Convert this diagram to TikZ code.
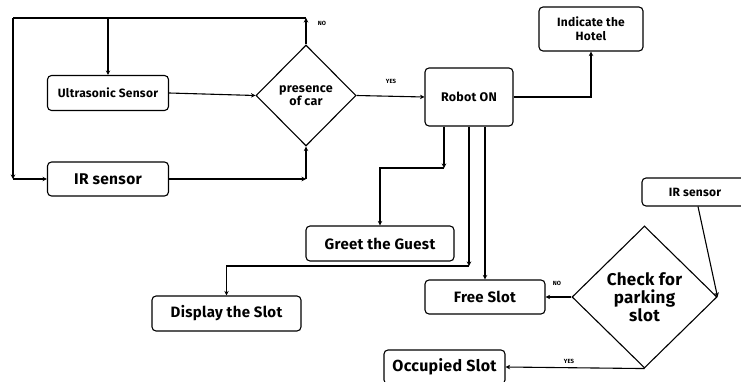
\documentclass[tikz,border=0pt]{standalone}
\usepackage{fontspec}
\setmainfont{Fira Sans}[LetterSpace=2]
\usetikzlibrary{arrows.meta,shapes.geometric,positioning}
\newcommand{\fs}[1]{\fontsize{#1}{#1}\selectfont}
\begin{document}
\begin{tikzpicture}[x=1pt,y=-1pt,line width=1.1pt,
    box/.style={draw,rounded corners=4pt,align=center,inner sep=0pt,font=\bfseries},
    dec/.style={draw,diamond,align=center,inner sep=0pt,font=\bfseries},
    lbl/.style={font=\bfseries\fs{6}},
    arr/.style={-{Stealth[length=4.5pt,width=4.5pt]}}]
 \useasboundingbox[fill=white] (0,0) rectangle (741,382);
 % sensors and first decision
 \node[box,minimum width=121,minimum height=35,font=\bfseries\fs{12}] (us) at (108,93) {Ultrasonic Sensor};
 \node[box,minimum width=121,minimum height=34,font=\bfseries\fs{15.5}] (irl) at (108,179) {IR sensor};
 \node[dec,minimum width=100,minimum height=101,font=\bfseries\fs{12.5}] (pres) at (306,95.5) {presence\\[1pt]of car};
 \node[box,minimum width=88,minimum height=58,font=\bfseries\fs{12.5}] (robot) at (469,97) {Robot ON};
 \node[box,minimum width=104,minimum height=44,font=\bfseries\fs{12}] (hotel) at (591,29) {Indicate the\\[2pt]Hotel};
 % robot tasks
 \node[box,minimum width=148,minimum height=35,font=\bfseries\fs{15}] (greet) at (380,243.5) {Greet the Guest};
 \node[box,minimum width=149,minimum height=35,font=\bfseries\fs{15}] (disp) at (226.5,313.5) {Display the Slot};
 \node[box,minimum width=120,minimum height=34,font=\bfseries\fs{15}] (free) at (485,297) {Free Slot};
 \node[dec,minimum width=145,minimum height=142,font=\bfseries\fs{17}] (check) at (644.5,297) {Check for\\[1pt]parking\\[1pt]slot};
 \node[box,minimum width=106,minimum height=28,font=\bfseries\fs{12}] (irr) at (695,192) {IR sensor};
 \node[box,minimum width=121,minimum height=34,font=\bfseries\fs{16}] (occ) at (444.5,367) {Occupied Slot};
 % loop back
 \coordinate (nt) at (306,18);
 \coordinate (lt) at (13,18);
 \coordinate (lb) at (13,179);
 \draw[arr] (pres.north) -- (nt);
 \draw (nt) -- (lt);
 \draw[arr] (lt) -- (lb);
 \draw[arr] (lb) -- (irl.west);
 \draw[arr] (us.north |- nt) -- (us.north);
 \node[lbl] (no1) at (322,23) {NO};
 \draw[arr] (us.east) -- (pres.west);
 \draw[arr] (irl.east) -- (irl.east -| pres.south);
 \draw[arr] (irl.east -| pres.south) -- (pres.south);
 \draw[arr] (pres.east) -- (robot.west);
 \node[lbl] (yes1) at (391,81) {YES};
 \draw[arr] (robot.east) -| (hotel.south);
 % outputs of the robot
 \coordinate (g1) at (444,168);
 \coordinate (d1) at (469,266);
 \draw[arr] (robot.south -| g1) -- (g1);
 \draw[arr] (g1) -| (greet.north);
 \draw[arr] (robot.south) -- (d1);
 \draw[arr] (d1) -| (disp.north);
 \draw[arr] (robot.south -| free.north) -- (free.north);
 % parking check
 \draw[arr] ([xshift=3]irr.south) -- (check.east);
 \draw[arr] (check.west) -- (free.east);
 \node[lbl] (no2) at (557,283) {NO};
 \draw[arr] (check.south) -- (occ.east);
 \node[lbl] (yes2) at (569,361) {YES};
\end{tikzpicture}
\end{document}
